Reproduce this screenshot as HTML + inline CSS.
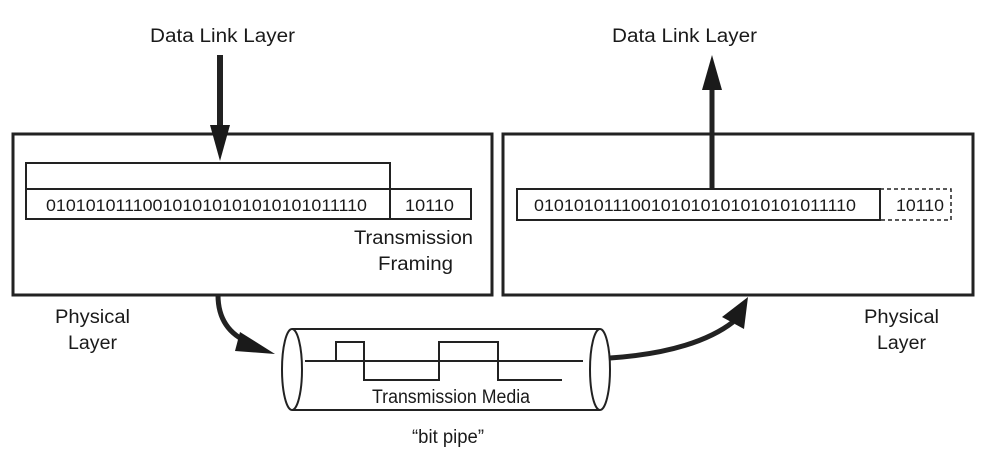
<!DOCTYPE html>
<html><head><meta charset="utf-8"><style>
html,body{margin:0;padding:0;background:#fff;}
svg{display:block;font-family:"Liberation Sans",sans-serif;}
</style></head><body>
<svg width="995" height="455" viewBox="0 0 995 455" xmlns="http://www.w3.org/2000/svg">
<g fill="#1a1a1a" font-size="19">
<text x="150" y="42" textLength="145" lengthAdjust="spacingAndGlyphs">Data Link Layer</text>
<text x="612" y="42" textLength="145" lengthAdjust="spacingAndGlyphs">Data Link Layer</text>
<text x="55" y="323" textLength="75" lengthAdjust="spacingAndGlyphs">Physical</text>
<text x="68" y="349" textLength="49" lengthAdjust="spacingAndGlyphs">Layer</text>
<text x="864" y="323" textLength="75" lengthAdjust="spacingAndGlyphs">Physical</text>
<text x="877" y="349" textLength="49" lengthAdjust="spacingAndGlyphs">Layer</text>
<text x="354" y="244" textLength="119" lengthAdjust="spacingAndGlyphs">Transmission</text>
<text x="378" y="270" textLength="75" lengthAdjust="spacingAndGlyphs">Framing</text>
<text x="372" y="403" textLength="158" lengthAdjust="spacingAndGlyphs">Transmission Media</text>
<text x="412" y="443" textLength="72" lengthAdjust="spacingAndGlyphs">“bit pipe”</text>
</g>
<g fill="none" stroke="#222">
<rect x="13" y="134" width="479" height="161" stroke-width="3"/>
<rect x="503" y="134" width="470" height="161" stroke-width="3"/>
<rect x="26" y="163" width="364" height="26" stroke-width="2"/>
<rect x="26" y="189" width="445" height="30" stroke-width="2"/>
<line x1="390" y1="189" x2="390" y2="219" stroke-width="2"/>
<rect x="517" y="189" width="363" height="31" stroke-width="2"/>
<path d="M880 189 H951 V220 H880" stroke-width="1.5" stroke-dasharray="4,3"/>
<line x1="292" y1="329" x2="600" y2="329" stroke-width="2"/>
<line x1="292" y1="410" x2="600" y2="410" stroke-width="2"/>
<ellipse cx="292" cy="369.5" rx="10" ry="40.5" stroke-width="2" fill="#fff"/>
<ellipse cx="600" cy="369.5" rx="10" ry="40.5" stroke-width="2" fill="#fff"/>
<line x1="305" y1="361" x2="583" y2="361" stroke-width="2"/>
<path d="M336 361 V342 H364 V380 H439 V342 H498 V380 H562" stroke-width="2"/>
<line x1="220" y1="55" x2="220" y2="128" stroke-width="6"/>
<line x1="712" y1="189" x2="712" y2="88" stroke-width="5"/>
<path d="M218 295 C218 320 230 335 250 343" stroke-width="5"/>
<path d="M610 358 C670 354 710 340 733 322" stroke-width="5"/>
</g>
<g fill="#1a1a1a">
<polygon points="210,125 230,125 220,161"/>
<polygon points="702,90 722,90 712,55"/>
<polygon points="240,332 275,354 235,351"/>
<polygon points="722,317 744,329 748,297"/>
</g>
<g fill="#1a1a1a" font-size="17">
<text x="46" y="211" textLength="321" lengthAdjust="spacingAndGlyphs">010101011100101010101010101011110</text>
<text x="405" y="211" textLength="49" lengthAdjust="spacingAndGlyphs">10110</text>
<text x="534" y="211" textLength="322" lengthAdjust="spacingAndGlyphs">010101011100101010101010101011110</text>
<text x="896" y="211" textLength="48" lengthAdjust="spacingAndGlyphs">10110</text>
</g>
</svg>
</body></html>
